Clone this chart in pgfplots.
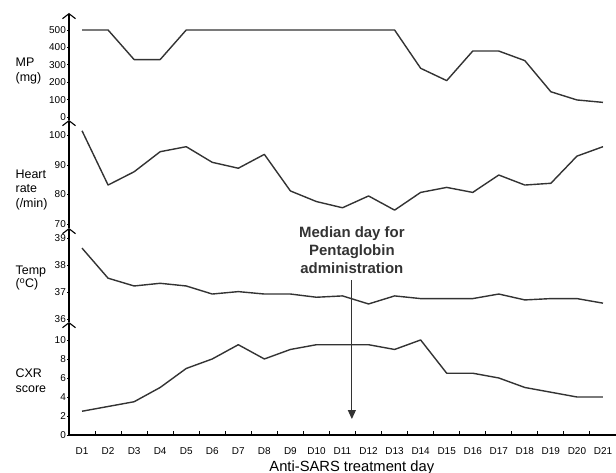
\documentclass[border=0pt]{standalone}
\usepackage{fontspec}
\setmainfont{Liberation Sans}
\usepackage{pgfplots}
\pgfplotsset{compat=1.18}
\usetikzlibrary{arrows.meta}
\definecolor{ln}{HTML}{333333}
\pgfplotsset{
 panel/.style={
  width=547bp, scale only axis, xmin=0.5, xmax=21.5,
  axis y line=left,
  y axis line style={line width=1.3bp, -{Straight Barb[length=5bp,width=13bp,line width=1.1bp]}},
  ytick style={line width=0.6bp, black}, ytick align=outside, major tick length=2bp,
  yticklabel style={font=\fontsize{10}{11}\selectfont, inner sep=1bp},
  /pgf/number format/assume math mode=true,
  ylabel style={rotate=-90, anchor=west, align=left, font=\fontsize{12.5}{15}\selectfont},
  clip=false,
  cycle list={{ln,mark=none}},
  every axis plot/.append style={line width=1.4bp, line join=round},
 }
}
\begin{document}
\begin{tikzpicture}
\useasboundingbox (0,0) rectangle (616bp,473bp);
% MP panel
\begin{axis}[panel, axis x line=none, at={(69bp,353bp)}, anchor=south west, height=107bp,
  ymin=-17.2, ymax=597.7, ytick={0,100,200,300,400,500},
  ylabel={MP\\(mg)}, ylabel style={at={(axis description cs:-0.104,0.458)}}]
\addplot coordinates {(1,500)(2,500)(3,330)(4,330)(5,500)(6,500)(7,500)(8,500)(9,500)(10,500)(11,500)(12,500)(13,500)(14,280)(15,209)(16,379)(17,379)(18,324)(19,145)(20,98)(21,84)};
\end{axis}
% Heart rate panel
\begin{axis}[panel, axis x line=none, at={(69bp,245bp)}, anchor=south west, height=108bp,
  ymin=68.64, ymax=105.25, ytick={70,80,90,100},
  ylabel={Heart\\rate\\(/min)}, ylabel style={at={(axis description cs:-0.104,0.352)}}]
\addplot coordinates {(1,101.6)(2,83.2)(3,87.7)(4,94.5)(5,96.2)(6,90.9)(7,88.9)(8,93.6)(9,81.2)(10,77.6)(11,75.5)(12,79.5)(13,74.7)(14,80.7)(15,82.4)(16,80.7)(17,86.6)(18,83.2)(19,83.8)(20,93)(21,96.2)};
\end{axis}
% Temperature panel
\begin{axis}[panel, axis x line=none, at={(69bp,151bp)}, anchor=south west, height=94bp,
  ymin=35.888, ymax=39.39, ytick={36,37,38,39},
  ylabel={Temp\\(\textsuperscript{o}C)}, ylabel style={font=\fontsize{12.5}{13}\selectfont, at={(axis description cs:-0.104,0.463)}}]
\addplot coordinates {(1,38.64)(2,37.52)(3,37.23)(4,37.33)(5,37.23)(6,36.93)(7,37.02)(8,36.93)(9,36.93)(10,36.81)(11,36.86)(12,36.56)(13,36.86)(14,36.76)(15,36.76)(16,36.76)(17,36.93)(18,36.71)(19,36.76)(20,36.76)(21,36.59)};
\end{axis}
% CXR panel
\begin{axis}[panel, at={(69bp,38bp)}, anchor=south west, height=113bp,
  ymin=0, ymax=11.89, ytick={0,2,4,6,8,10},
  axis x line=bottom, x axis line style={-, line width=1.3bp},
  xtick={1,...,21},
  xticklabels={D1,D2,D3,D4,D5,D6,D7,D8,D9,D10,D11,D12,D13,D14,D15,D16,D17,D18,D19,D20,D21},
  every major x tick/.append style={draw=none},
  minor xtick={1.5,2.5,...,20.5},
  every minor x tick/.append style={line width=1bp, black},
  xtick align=inside, minor tick length=4bp,
  xticklabel style={font=\fontsize{10}{11}\selectfont, yshift=-9bp},
  xlabel={Anti-SARS treatment day},
  xlabel style={at={(axis description cs:0.517,-0.285)}, anchor=center, font=\fontsize{14.8}{16}\selectfont},
  ylabel={CXR\\score}, ylabel style={at={(axis description cs:-0.104,0.482)}}]
\addplot coordinates {(1,2.5)(2,3)(3,3.5)(4,5)(5,7)(6,8)(7,9.5)(8,8)(9,9)(10,9.5)(11,9.5)(12,9.5)(13,9)(14,10)(15,6.5)(16,6.5)(17,6)(18,5)(19,4.5)(20,4)(21,4)};
\draw[ln, line width=1bp, -{Triangle[length=9bp,width=8bp]}] (axis cs:11.36,16.3) -- (axis cs:11.36,1.68);
\node[align=center, font=\bfseries\fontsize{15}{18}\selectfont, text=ln] at (axis cs:11.36,19.47) {Median day for\\Pentaglobin\\administration};
\end{axis}
\end{tikzpicture}
\end{document}
